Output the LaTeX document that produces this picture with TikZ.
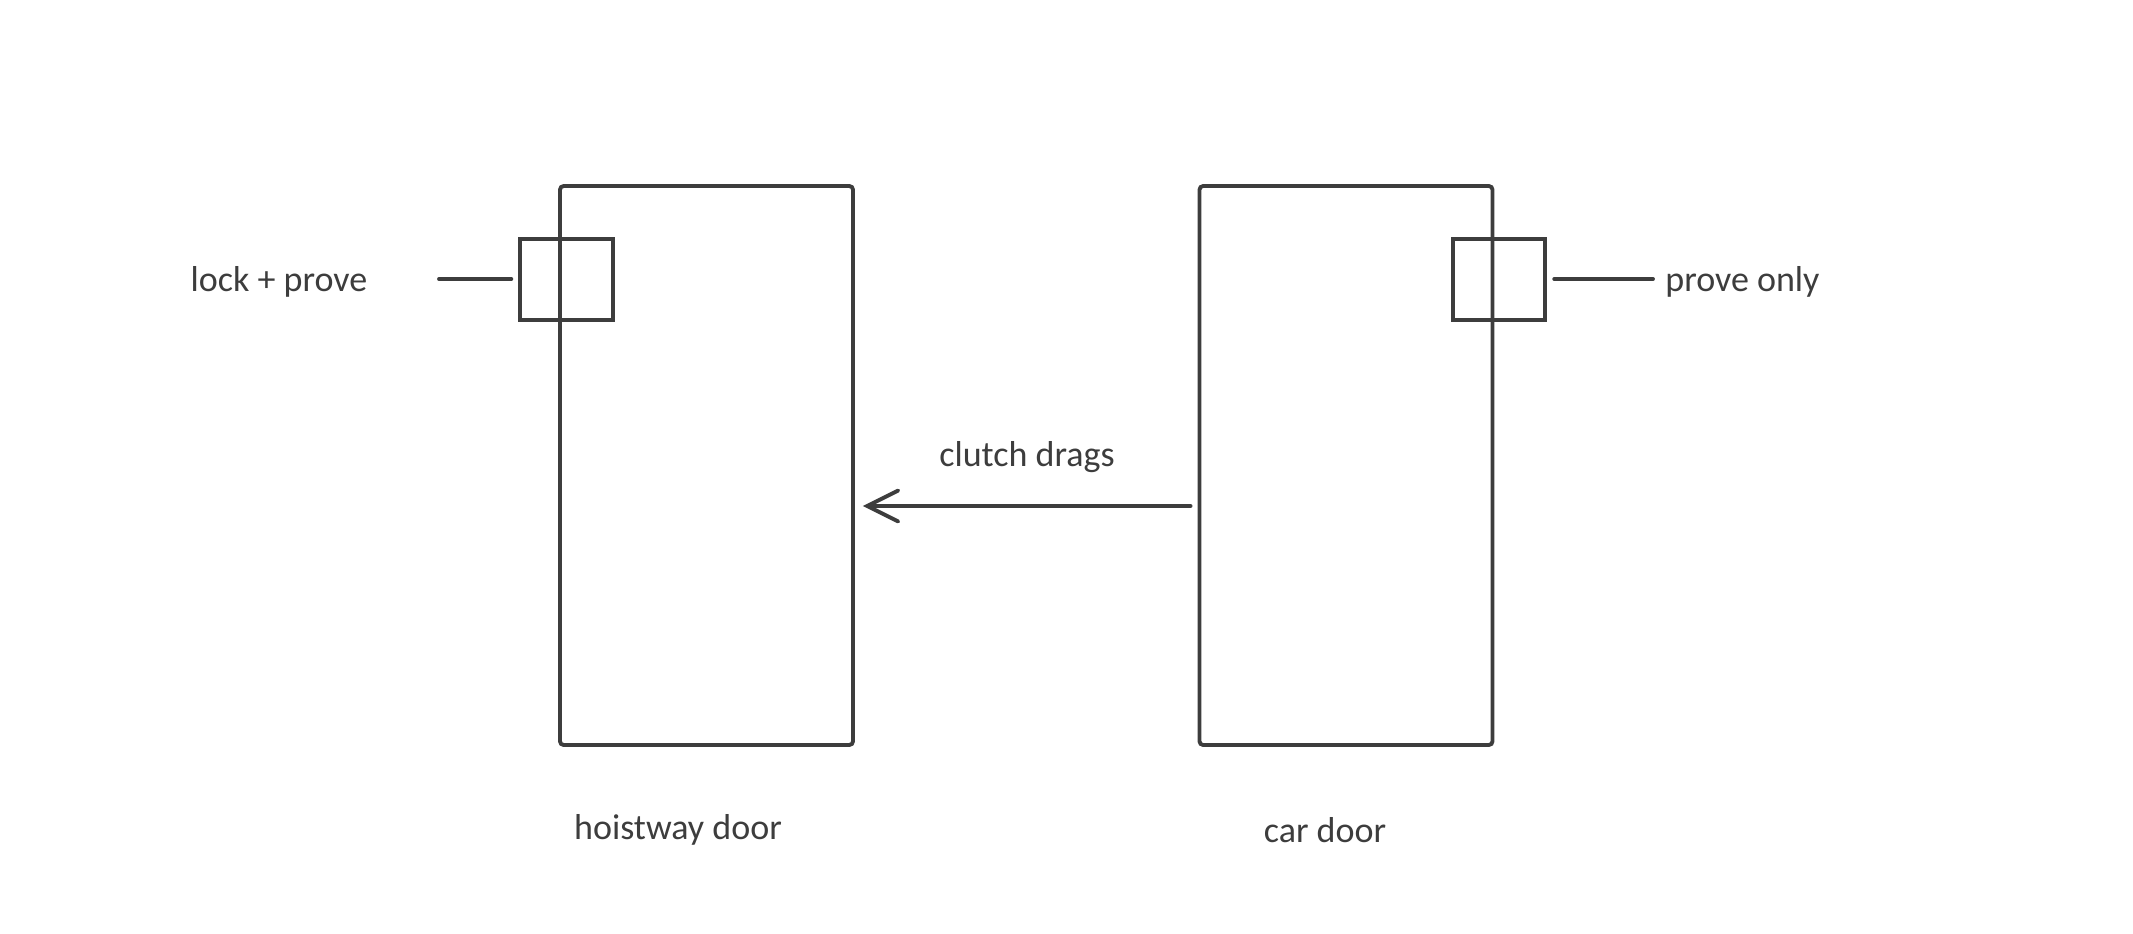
\documentclass[tikz,border=0pt]{standalone}
\usepackage{fontspec}
\setmainfont{Carlito}
\usetikzlibrary{arrows.meta}
\definecolor{ink}{HTML}{3D3D3D}

\begin{document}
\begin{tikzpicture}[x=0.02cm, y=-0.02cm,
  door/.style = {draw=ink, line width=2.2pt, rounded corners=2pt, minimum width=5.86cm, minimum height=11.18cm, inner sep=0pt},
  lockbox/.style = {draw=ink, line width=2.2pt, minimum width=1.85cm, minimum height=1.62cm, inner sep=0pt},
  lbl/.style = {text=ink, font=\fontsize{20.5}{24}\selectfont, inner sep=0pt},
  wire/.style = {draw=ink, line width=2.2pt, line cap=round}]

% Frame
\useasboundingbox (0,0) rectangle (2133,933);

% Doors
\node[door] (hoist) at (706.5,465.5) {};
\node[door] (car) at (1346,465.5) {};

% Locks on the doors
\node[lockbox] (hlock) at (566.5,279.5) {};
\node[lockbox] (clock) at (1499,279.5) {};

% Labels
\node[lbl] (lockprove) at (279,282) {lock + prove};
\node[lbl, anchor=west] (proveonly) at (1665,282) {prove only};
\node[lbl] (clutch) at (1027,457) {clutch drags};
\node[lbl] (hoistlbl) at (678,830) {hoistway door};
\node[lbl] (carlbl) at (1325,830) {car door};

% Lines to the locks
\coordinate (lstart) at (439,279);
\draw[wire, shorten >=7*0.02cm] (lstart) -- (hlock.west |- lstart);
\draw[wire, shorten <=7*0.02cm, shorten >=12*0.02cm] (clock.east |- lstart) -- (proveonly.west |- lstart);

% Clutch arrow
\draw[wire, shorten <=7*0.02cm, shorten >=8*0.02cm, -{Straight Barb[length=0.62cm, width=0.62cm, line cap=round]}] (car.west |- 0,506) -- (hoist.east |- 0,506);

\end{tikzpicture}
\end{document}
